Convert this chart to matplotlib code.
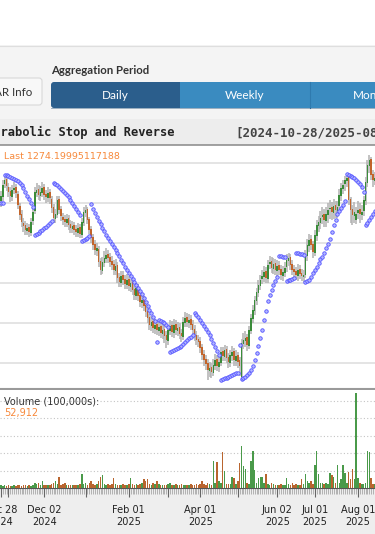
import matplotlib
matplotlib.use('Agg')
import matplotlib.pyplot as plt
from matplotlib.patches import Rectangle, FancyBboxPatch
import numpy as np

# daily bars, 2024-10-28 onwards (prices)
opens = [1262,1266,1279,1284,1276,1272,1266,1273,1276,1269,
         1257,1249,1240,1238,1232,1236,1230,1242,1252,1270,
         1274,1267,1270,1276,1269,1265,1271,1264,1256,1244,
         1248,1264,1254,1246,1244,1240,1245,1239,1234,1238,
         1234,1230,1236,1228,1240,1250,1254,1244,1234,1226,
         1219,1212,1214,1202,1192,1200,1204,1209,1206,1202,
         1199,1192,1198,1186,1180,1188,1184,1178,1184,1176,
         1181,1174,1167,1176,1168,1160,1164,1158,1152,1146,
         1137,1142,1134,1139,1132,1137,1129,1134,1128,1122,
         1132,1138,1130,1139,1132,1136,1130,1126,1140,1146,
         1140,1144,1139,1134,1128,1124,1122,1116,1109,1104,
         1100,1092,1096,1090,1097,1104,1096,1100,1112,1106,
         1114,1106,1100,1107,1112,1102,1108,1103,1086,1119,
         1122,1126,1117,1132,1144,1152,1162,1170,1177,1184,
         1186,1192,1184,1199,1202,1194,1200,1192,1198,1194,
         1187,1190,1196,1202,1206,1199,1194,1192,1187,1194,
         1190,1186,1188,1207,1217,1224,1219,1210,1227,1237,
         1240,1246,1249,1242,1248,1254,1256,1250,1258,1252,
         1257,1267,1274,1279,1282,1286,1264,1254,1247,1243,
         1250,1254,1248,1252,1262,1280,1297,1304,1289,1282]
closes = [1267,1278,1283,1277,1271,1267,1273,1275,1270,1258,
          1248,1241,1237,1233,1235,1231,1241,1251,1271,1273,
          1268,1271,1275,1268,1266,1270,1265,1255,1245,1249,
          1263,1253,1247,1243,1241,1244,1238,1235,1237,1233,
          1231,1235,1229,1241,1251,1253,1243,1233,1225,1218,
          1213,1215,1201,1193,1201,1205,1208,1205,1201,1198,
          1193,1197,1185,1181,1187,1183,1179,1183,1177,1180,
          1173,1168,1175,1167,1161,1163,1157,1151,1145,1138,
          1141,1135,1138,1133,1136,1130,1133,1127,1123,1133,
          1137,1131,1138,1133,1135,1129,1127,1141,1145,1141,
          1143,1138,1133,1127,1123,1121,1115,1108,1103,1099,
          1093,1095,1091,1098,1103,1097,1101,1111,1107,1113,
          1105,1101,1108,1111,1103,1107,1101,1097,1120,1123,
          1125,1118,1133,1145,1153,1163,1171,1178,1183,1187,
          1191,1185,1198,1201,1195,1199,1193,1197,1193,1188,
          1191,1195,1203,1205,1198,1193,1191,1188,1193,1189,
          1187,1188,1208,1218,1223,1218,1211,1228,1238,1241,
          1245,1248,1243,1249,1253,1255,1251,1257,1253,1256,
          1268,1275,1278,1283,1285,1263,1253,1248,1251,1249,
          1253,1249,1251,1263,1281,1298,1303,1288,1283,1285]
highs = [1272,1283,1288,1287,1280,1276,1278,1281,1279,1272,
         1260,1253,1245,1242,1240,1239,1245,1256,1276,1280,
         1278,1277,1281,1279,1273,1276,1274,1267,1259,1254,
         1267,1267,1257,1250,1248,1249,1248,1243,1242,1241,
         1238,1240,1239,1245,1256,1258,1256,1246,1237,1229,
         1223,1220,1217,1205,1206,1212,1215,1213,1210,1207,
         1203,1204,1201,1190,1192,1192,1188,1189,1187,1184,
         1184,1178,1180,1179,1172,1169,1167,1161,1156,1149,
         1147,1146,1144,1143,1142,1141,1139,1138,1132,1137,
         1143,1142,1144,1143,1141,1140,1134,1146,1151,1150,
         1149,1148,1143,1138,1132,1128,1126,1119,1113,1108,
         1104,1101,1100,1104,1109,1108,1107,1116,1116,1118,
         1117,1110,1113,1117,1115,1113,1111,1106,1124,1130,
         1132,1129,1137,1149,1158,1167,1175,1183,1188,1193,
         1197,1196,1203,1207,1206,1205,1204,1203,1202,1198,
         1197,1201,1209,1210,1209,1203,1198,1196,1199,1198,
         1194,1193,1213,1224,1229,1228,1222,1233,1243,1247,
         1252,1256,1254,1256,1260,1263,1261,1264,1262,1262,
         1274,1280,1283,1287,1288,1287,1266,1258,1261,1256,
         1262,1260,1258,1267,1286,1303,1308,1306,1293,1291]
lows = [1256,1262,1275,1272,1266,1261,1262,1269,1265,1254,
        1243,1236,1231,1228,1228,1226,1227,1238,1249,1266,
        1263,1262,1266,1263,1260,1261,1259,1250,1240,1240,
        1245,1249,1242,1238,1236,1236,1233,1230,1230,1228,
        1226,1226,1225,1225,1237,1246,1239,1229,1220,1213,
        1208,1207,1196,1188,1189,1196,1200,1200,1196,1193,
        1188,1188,1180,1176,1176,1178,1174,1174,1172,1171,
        1168,1163,1163,1162,1156,1155,1152,1146,1140,1133,
        1132,1130,1129,1128,1127,1125,1124,1120,1115,1118,
        1128,1126,1125,1128,1127,1124,1121,1123,1136,1136,
        1135,1133,1128,1122,1118,1116,1110,1103,1097,1093,
        1083,1086,1085,1087,1093,1092,1091,1097,1102,1102,
        1100,1095,1096,1102,1097,1097,1095,1087,1084,1114,
        1116,1112,1114,1129,1140,1148,1158,1166,1173,1179,
        1181,1180,1180,1194,1190,1189,1188,1187,1188,1183,
        1182,1186,1191,1197,1193,1188,1186,1183,1182,1184,
        1182,1181,1185,1202,1211,1213,1205,1207,1222,1231,
        1234,1239,1236,1236,1240,1244,1243,1244,1245,1245,
        1252,1262,1269,1272,1276,1258,1240,1238,1240,1239,
        1244,1240,1243,1247,1258,1276,1290,1283,1276,1278]
sar = [1260,1260,1288,1288,1287,1286,1285,1284,1283,1282,
       1280,1278,1275,1271,1267,1264,1260,1256,1228,1229,
       1230,1232,1233,1235,1236,1238,1240,1242,1280,1279,
       1278,1276,1274,1272,1270,1268,1266,1263,1260,1257,
       1254,1251,1248,1222,1223,1224,1225,1227,1259,1254,
       1250,1246,1242,1239,1235,1232,1228,1225,1222,1219,
       1216,1213,1210,1207,1203,1200,1196,1193,1190,1187,
       1184,1181,1178,1175,1172,1169,1165,1161,1157,1153,
       1150,1146,1142,1121,1143,1142,1141,1140,1138,1136,
       1111,1112,1113,1114,1115,1116,1117,1119,1121,1123,
       1125,1126,1128,1150,1148,1146,1143,1140,1137,1134,
       1131,1128,1124,1120,1116,1112,1108,1083,1084,1085,
       1085,1086,1087,1088,1089,1090,1090,1118,1084,1085,
       1086,1088,1090,1093,1097,1103,1110,1117,1125,1133,
       1143,1152,1162,1168,1173,1178,1182,1186,1207,1207,
       1206,1206,1182,1183,1183,1184,1185,1210,1210,1209,
       1209,1208,1181,1182,1183,1186,1190,1193,1196,1200,
       1204,1206,1210,1215,1219,1224,1231,1238,1243,1249,
       1252,1255,1258,1262,1289,1288,1287,1286,1285,1283,
       1281,1279,1276,1271,1238,1240,1243,1246,1249,1252]
volume = [3,2,3,2,3,2,2,3,2,3,
          3,2,3,3,2,3,2,4,6,5,
          6,4,8,4,3,4,4,5,6,8,
          5,13,4,5,6,4,3,4,3,4,
          4,3,5,16,5,6,4,6,8,5,
          4,5,8,13,15,5,4,5,4,5,
          12,5,4,4,4,5,4,4,5,11,
          5,4,5,4,5,6,10,8,10,5,
          4,6,5,8,5,4,4,4,4,5,
          6,4,4,5,4,4,5,4,3,4,
          4,5,3,4,5,4,5,8,5,4,
          6,5,4,31,6,30,8,6,41,20,
          5,5,5,13,12,5,8,29,48,25,
          22,6,5,31,43,21,6,12,13,13,
          6,16,5,4,6,5,4,4,4,5,
          4,4,12,5,4,6,4,5,4,4,
          10,5,16,8,6,8,5,26,42,16,
          6,6,5,6,5,17,15,13,6,26,
          6,10,27,17,6,18,10,22,10,109,
          12,6,5,5,6,43,41,12,5,5]

tick_idx = [0, 4, 23, 45, 68, 89, 106, 126, 147, 167, 190]
tick_lbl = ['Oct 28\n2024', '', 'Dec 02\n2024', '', 'Feb 01\n2025', '',
            'Apr 01\n2025', '', 'Jun 02\n2025', 'Jul 01\n2025', 'Aug 01\n2025']

W, H = 375, 534
fig = plt.figure(figsize=(3.75, 5.34), dpi=100)
fig.patch.set_facecolor('white')

def px_axes(x, y, w, h):
    return fig.add_axes([x / W, 1 - (y + h) / H, w / W, h / H])

# page chrome drawn in pixel coords
ui = px_axes(0, 0, W, H)
ui.set_xlim(0, W)
ui.set_ylim(H, 0)
ui.axis('off')
ui.add_patch(Rectangle((0, 45), W, 75, fc='#f4f4f4', ec='none'))
ui.plot([0, W], [45.5, 45.5], color='#dedede', lw=0.8)
ui.add_patch(Rectangle((0, 119), W, 26, fc='#ededed', ec='none'))
ui.add_patch(Rectangle((0, 488), W, 46, fc='#eeeeee', ec='none'))

ui.add_patch(FancyBboxPatch((-10, 78), 52, 27, boxstyle='round,pad=0,rounding_size=3',
                            fc='#f8f8f8', ec='#d8d8d8', lw=0.8))
ui.text(32.5, 92, 'SAR Info', ha='right', va='center', fontsize=8.3, color='#333333', family='Lato')
ui.text(51, 70, 'Aggregation Period', ha='left', va='center', fontsize=8.2,
        fontweight='bold', color='#333333', family='Lato')

ui.add_patch(FancyBboxPatch((51, 82), 140, 26, boxstyle='round,pad=0,rounding_size=3',
                            fc='#2b5e8c', ec='none'))
ui.add_patch(Rectangle((180, 82), 130, 26, fc='#3a8bc0', ec='none'))
ui.add_patch(Rectangle((310, 82), 80, 26, fc='#3a8bc0', ec='none'))
ui.plot([310, 310], [82, 108], color='#2f7aae', lw=0.8)
ui.plot([51, 375], [107.6, 107.6], color='#245178', lw=0.6, alpha=0.5)
ui.text(115.5, 95.5, 'Daily', ha='center', va='center', fontsize=8.5, color='white', family='Lato')
ui.text(244.5, 95.5, 'Weekly', ha='center', va='center', fontsize=8.5, color='white', family='Lato')
ui.text(353, 95.5, 'Monthly', ha='left', va='center', fontsize=8.5, color='white', family='Lato')

ui.text(-14.4, 132.5, 'Parabolic Stop and Reverse', ha='left', va='center', fontsize=8.7,
        fontweight='bold', family='DejaVu Sans Mono', color='#222222')
ui.text(235.5, 132.5, '[2024-10-28/2025-08-08]', ha='left', va='center', fontsize=9.0,
        fontweight='bold', family='DejaVu Sans Mono', color='#444444')

x = np.arange(len(closes))
o = np.array(opens)
c = np.array(closes)
up = c >= o
green, orange = '#3a8c3a', '#c2652c'
cols = np.where(up, green, orange)

# price panel
ax = px_axes(0, 145, W, 244)
ax.set_facecolor('white')
ax.vlines(x, lows, highs, color='#b2b2b2', lw=1.1, zorder=2)
body = np.where(np.abs(c - o) < 0.8, 0.8, c - o)
ax.bar(x, body, bottom=o, width=0.85, color=cols, zorder=3)
ax.plot(x, sar, 'o', ls='none', ms=2.5, mfc='#b4b8ff', mec='#5050ff', mew=0.6, zorder=4)
ax.set_xlim(-0.5, 199)
ax.set_ylim(1074, 1318)
ax.set_yticks([1100, 1140, 1180, 1220, 1260, 1300])
ax.yaxis.grid(True, color='#e2e2e2', lw=1.3)
ax.set_axisbelow(True)
ax.tick_params(length=0, labelleft=False, labelbottom=False)
ax.set_xticks([])
for s in ['left', 'right']:
    ax.spines[s].set_visible(False)
ax.spines['top'].set_color('#888888')
ax.spines['top'].set_linewidth(1.1)
ax.spines['bottom'].set_color('#9a9a9a')
ax.spines['bottom'].set_linewidth(1.5)
ax.text(4 / W, 1 - 11.5 / 244, 'Last 1274.19995117188', transform=ax.transAxes,
        fontsize=6.8, color='#f7893b', va='center', ha='left')

# volume panel
axv = px_axes(0, 390, W, 98)
axv.set_facecolor('white')
axv.bar(x, volume, width=0.8, color=np.where(up, '#4a9a4a', '#b9652f'), zorder=3)
axv.set_xlim(-0.5, 199)
axv.set_ylim(0, 112.6)
axv.set_yticks([20, 40, 60, 80, 100])
axv.yaxis.grid(True, color='#c4c4c4', lw=0.8, ls=(0, (1, 2)))
axv.set_axisbelow(True)
axv.tick_params(axis='y', length=0, labelleft=False)
for s in ['left', 'right', 'top']:
    axv.spines[s].set_visible(False)
axv.spines['bottom'].set_color('#555555')
axv.set_xticks(tick_idx)
axv.set_xticklabels(tick_lbl, fontsize=7, color='#222222', linespacing=1.15)
axv.set_xticks(x, minor=True)
axv.tick_params(axis='x', which='major', length=6.5, width=0.8, color='#666666', pad=6)
axv.tick_params(axis='x', which='minor', length=4.5, width=0.5, color='#9a9a9a')
axv.text(4 / W, 1 - 11 / 98, 'Volume (100,000s):', transform=axv.transAxes,
         fontsize=7, color='#333333', va='center', ha='left')
axv.text(4 / W, 1 - 23 / 98, '52,912', transform=axv.transAxes,
         fontsize=7, color='#f7893b', va='center', ha='left')

fig.savefig('out.png', dpi=100)
